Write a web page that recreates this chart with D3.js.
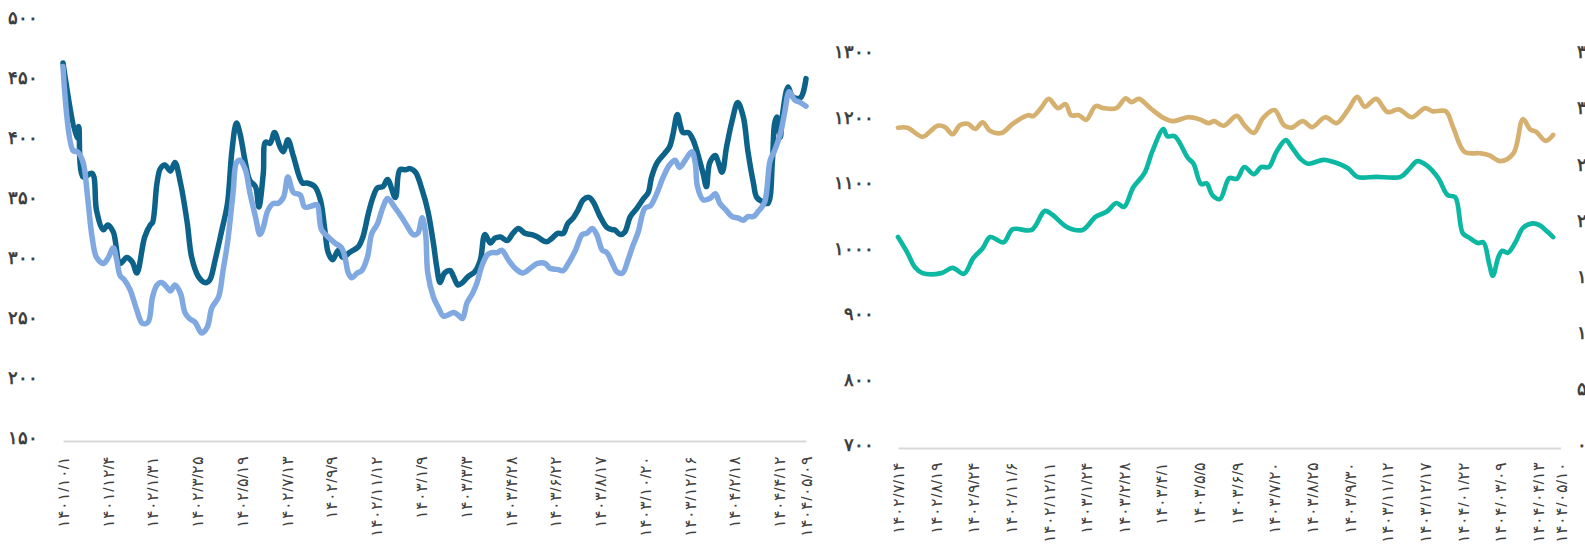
<!DOCTYPE html>
<html lang="fa">
<head>
  <meta charset="UTF-8">
  <title>Two panel line chart</title>
  <script src="https://d3js.org/d3.v7.min.js"></script>
  <style>
    body { margin: 0; background: #fff; font-family: "DejaVu Sans", sans-serif; }
    .tick text { fill: #3f3f3f; }
    .yaxis .tick text { font-weight: bold; }
  </style>
</head>
<body>
  <div id="chart"></div>
  <script>
    // ---- left panel data (x = trading-day index) ----
    const leftTickDays = [0, 40, 80, 120, 160, 200, 240, 280, 320, 360, 400, 440, 480, 520, 560, 600, 640, 664];
    const leftTickLabels = ['۱۴۰۱/۱۰/۱', '۱۴۰۱/۱۲/۴', '۱۴۰۲/۱/۳۱', '۱۴۰۲/۳/۲۵', '۱۴۰۲/۵/۱۹', '۱۴۰۲/۷/۱۳',
      '۱۴۰۲/۹/۹', '۱۴۰۲/۱۱/۱۲', '۱۴۰۳/۱/۹', '۱۴۰۳/۳/۳', '۱۴۰۳/۴/۲۸', '۱۴۰۳/۶/۲۲', '۱۴۰۳/۸/۱۷',
      '۱۴۰۳/۱۰/۲۰', '۱۴۰۳/۱۲/۱۶', '۱۴۰۴/۲/۱۸', '۱۴۰۴/۴/۱۲', '۱۴۰۴/۰۵/۰۹'];
    const leftYTicks = [150, 200, 250, 300, 350, 400, 450, 500];

    const darkDays = [0,12,14,18,26,30,36,40,45,51, 57,62,66,73,78,80,84,87,91,96,
      100,105,111,115,121,127,131,136,142,147, 151,155,158,163,167,172,175,179,181,185,
      189,194,197,201,206,214,218,225,230,234, 237,241,246,250,256,264,268,273,277,281,
      286,290,297,301,306,310,315,321,326,331, 334,337,341,346,349,353,357,362,368,373,
      377,382,386,391,397,402,407,413,419,424, 432,437,442,447,451,456,460,465,470,474,
      480,486,491,493,498,502,507,513,518,523, 526,531,538,542,545,549,552,554,559,563,
      567,572,575,578,583,585,589,593,598,603, 608,612,617,620,626,630,634,636,638,641,
      643,648,652,659,664];
    const darkVals = [465,403,412,370,373,342,326,330,324,298, 303,299,290,320,330,332,365,377,380,375,
      382,365,332,303,287,282,284,301,326,348, 392,415,407,382,367,362,345,373,399,398,
      407,395,391,401,387,365,365,362,351,326, 307,301,309,303,307,312,320,340,353,361,
      362,368,353,376,376,377,374,359,342,315, 295,282,290,292,287,280,282,287,291,301,
      322,315,319,320,317,323,327,323,322,320, 316,319,323,323,331,336,342,351,353,349,
      337,328,326,326,322,324,337,344,351,357, 370,382,390,395,405,422,412,407,407,401,
      390,373,362,382,388,384,374,395,417,432, 420,392,365,353,349,348,384,415,420,403,
      422,445,437,436,452];

    const lightDays = [0,9,13,18,22,26,30,36,40,45, 48,51,55,60,66,71,76,80,84,88,
      93,96,100,105,109,113,118,124,129,133, 139,143,147,152,155,158,163,167,172,176,
      179,183,188,192,197,201,206,212,216,223, 227,231,237,243,249,252,255,258,263,267,
      272,276,281,286,290,297,303,307,313,317, 321,324,326,331,335,340,344,349,353,357,
      361,366,370,374,379,383,388,392,398,404, 411,419,424,431,435,442,447,451,458,464,
      468,473,477,482,486,491,495,500,505,509, 514,520,525,531,536,542,547,551,556,562,
      565,567,572,578,583,587,592,598,603,608, 612,617,621,627,632,636,641,645,649,654,
      659,664];
    const lightVals = [462,392,391,382,353,320,303,298,302,311, 301,288,284,276,259,248,249,270,280,282,
      278,275,280,273,257,252,249,240,245,261, 270,292,315,357,382,384,376,357,337,322,
      328,342,348,348,353,370,357,355,345,346, 347,326,320,315,311,303,290,286,290,292,
      303,323,331,345,352,344,336,330,322,323, 336,323,290,270,262,254,255,257,255,252,
      265,273,282,295,305,307,307,309,301,294, 290,295,298,298,294,293,292,297,309,322,
      323,327,322,309,307,298,291,290,301,312, 324,344,346,357,369,380,384,378,384,391,
      382,362,351,352,356,348,343,337,336,334, 337,337,341,349,384,392,406,424,441,434,
      432,429];

    // ---- right panel data ----
    const rightTickDays = [0, 20, 40, 60, 80, 100, 120, 140, 160, 180, 200, 220, 240, 260, 280, 300, 320, 340, 352];
    const rightTickLabels = ['۱۴۰۲/۷/۱۴', '۱۴۰۲/۸/۱۹', '۱۴۰۲/۹/۲۴', '۱۴۰۲/۱۱/۶', '۱۴۰۲/۱۲/۱۱', '۱۴۰۳/۱/۲۴',
      '۱۴۰۳/۲/۲۸', '۱۴۰۳/۴/۱', '۱۴۰۳/۵/۵', '۱۴۰۳/۶/۹', '۱۴۰۳/۷/۲۰', '۱۴۰۳/۸/۲۵', '۱۴۰۳/۹/۳۰',
      '۱۴۰۳/۱۱/۱۲', '۱۴۰۳/۱۲/۱۷', '۱۴۰۴/۰۱/۲۲', '۱۴۰۴/۰۳/۰۹', '۱۴۰۴/۰۴/۱۳', '۱۴۰۴/۰۵/۱۰'];
    const rightYTicks = [700, 800, 900, 1000, 1100, 1200, 1300];
    const rightY2Ticks = [0, 500, 1000, 1500, 2000, 2500, 3000, 3500];

    const tanDays = [0,5,13,17,21,25,29,33,37,41, 45,49,55,61,69,72,76,80,85,89,
      92,96,100,105,109,116,121,124,128,134, 141,146,154,160,165,168,173,180,184,189,
      194,200,205,209,215,220,227,233,239,244, 248,254,260,266,273,280,284,291,295,301,
      309,314,320,327,332,336,339,344,348];
    const tanVals = [1189,1189,1175,1183,1192,1190,1179,1193,1195,1187, 1197,1184,1181,1195,1208,1207,1219,1233,1219,1225,
      1208,1208,1201,1222,1219,1219,1234,1228,1233,1219, 1204,1199,1205,1202,1196,1199,1192,1207,1193,1181,
      1204,1216,1193,1189,1199,1190,1205,1196,1216,1236, 1221,1233,1213,1217,1205,1219,1214,1214,1189,1152,
      1150,1147,1138,1150,1202,1186,1183,1169,1178];

    const tealDays = [0,5,9,13,23,29,35,40,45,49, 56,61,71,78,82,90,98,105,111,116,
      120,125,131,135,141,143,147,154,157,161, 164,167,171,176,180,184,189,193,197,201,
      206,209,214,218,226,231,239,244,254,267, 271,276,281,287,292,296,300,303,308,311,
      314,316,319,321,324,328,332,337,341,345, 348];
    const tealVals = [1022,998,976,967,967,975,966,990,1005,1022, 1014,1034,1033,1062,1056,1037,1033,1053,1061,1074,
      1068,1098,1120,1152,1187,1176,1176,1143,1134,1103, 1104,1086,1080,1112,1111,1129,1118,1129,1129,1152,
      1170,1160,1141,1134,1140,1137,1127,1114,1114,1114, 1124,1138,1131,1112,1086,1083,1028,1022,1013,1014,
      982,963,992,1001,998,1014,1036,1043,1040,1030, 1022];

    // persian digits
    const fa = v => String(v).replace(/\d/g, d => '۰۱۲۳۴۵۶۷۸۹'[d]);

    const svg = d3.select('#chart').append('svg')
      .attr('width', 1585).attr('height', 545);

    function drawPanel(o) {
      const x = d3.scaleLinear().domain(o.xDomain).range(o.xRange);
      const y = d3.scaleLinear().domain(o.yDomain).range(o.yRange);

      // category axis with rotated date labels
      const labelOf = new Map(o.tickDays.map((d, i) => [d, o.tickLabels[i]]));
      const gx = svg.append('g')
        .attr('transform', `translate(0,${o.yRange[0]})`)
        .call(d3.axisBottom(x).tickValues(o.tickDays).tickFormat(d => labelOf.get(d)).tickSize(0));
      gx.select('.domain').attr('stroke', '#d9d9d9').attr('stroke-width', 2);
      gx.selectAll('text')
        .attr('transform', 'rotate(-90)')
        .attr('text-anchor', 'end')
        .attr('x', -o.labelGap).attr('y', 0).attr('dy', '0.35em')
        .style('font-size', '15.5px');

      // value axis
      const gy = svg.append('g')
        .attr('class', 'yaxis')
        .attr('transform', `translate(${o.yLabelX},-3)`)
        .call(d3.axisLeft(y).tickValues(o.yTicks).tickFormat(fa).tickSize(0).tickPadding(0));
      gy.select('.domain').remove();
      gy.selectAll('text').style('font-size', '18px');

      if (o.y2Ticks) {
        const y2 = d3.scaleLinear().domain(o.y2Domain).range(o.yRange);
        const gy2 = svg.append('g')
          .attr('class', 'yaxis')
          .attr('transform', `translate(${o.y2LabelX},-3)`)
          .call(d3.axisRight(y2).tickValues(o.y2Ticks).tickFormat(fa).tickSize(0).tickPadding(0));
        gy2.select('.domain').remove();
        gy2.selectAll('text').style('font-size', '18px');
      }

      const line = d3.line()
        .x(d => x(d[0]))
        .y(d => y(d[1]))
        .curve(d3.curveCatmullRom.alpha(0.5));

      o.series.forEach(s => {
        svg.append('path')
          .datum(s.days.map((d, i) => [d, s.vals[i]]))
          .attr('fill', 'none')
          .attr('stroke', s.color)
          .attr('stroke-width', o.strokeWidth)
          .attr('stroke-linejoin', 'round')
          .attr('stroke-linecap', 'round')
          .attr('d', line);
      });
    }

    drawPanel({
      xDomain: [0, 664], xRange: [63, 806],
      yDomain: [150, 500], yRange: [441, 21],
      tickDays: leftTickDays, tickLabels: leftTickLabels, labelGap: 15,
      yTicks: leftYTicks, yLabelX: 38,
      strokeWidth: 5.5,
      series: [
        { days: darkDays, vals: darkVals, color: '#0c6289' },
        { days: lightDays, vals: lightVals, color: '#80a8e1' }
      ]
    });

    drawPanel({
      xDomain: [0, 352], xRange: [898, 1560.6],
      yDomain: [700, 1300], yRange: [448, 55],
      tickDays: rightTickDays, tickLabels: rightTickLabels, labelGap: 14,
      yTicks: rightYTicks, yLabelX: 874,
      y2Ticks: rightY2Ticks, y2Domain: [0, 3500], y2LabelX: 1577,
      strokeWidth: 4.7,
      series: [
        { days: tanDays, vals: tanVals, color: '#d5b06e' },
        { days: tealDays, vals: tealVals, color: '#0db8a3' }
      ]
    });
  </script>
</body>
</html>
